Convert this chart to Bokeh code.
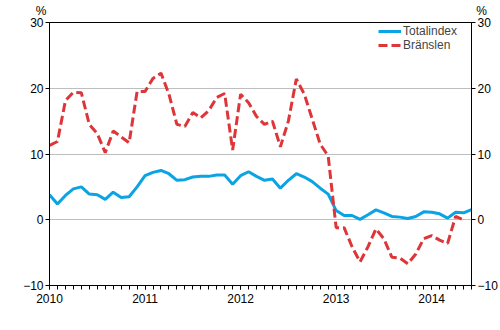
import math
from bokeh.plotting import figure
from bokeh.models import (Range1d, LinearAxis, FixedTicker, Legend, LegendItem)
from bokeh.embed import file_html
from bokeh.resources import INLINE

years = ["2010", "2011", "2012", "2013", "2014"]
year_start_index = [0, 12, 24, 36, 48]

totalindex = [3.8, 2.4, 3.7, 4.7, 5.0, 3.9, 3.8, 3.1, 4.2, 3.4, 3.5, 5.0,
              6.7, 7.2, 7.5, 7.0, 6.0, 6.1, 6.5, 6.6, 6.6, 6.8, 6.8, 5.4,
              6.7, 7.3, 6.6, 6.0, 6.2, 4.8, 6.0, 7.0, 6.5, 5.8, 4.8, 3.9,
              1.4, 0.65, 0.65, 0.05, 0.75, 1.5, 1.05, 0.5, 0.4, 0.2, 0.5, 1.2,
              1.15, 0.9, 0.25, 1.15, 1.05, 1.55]

bransle = [11.3, 11.9, 18.1, 19.4, 19.3, 14.5, 13.1, 10.2, 13.5, 12.6, 11.7, 19.5,
           19.5, 21.5, 22.3, 19.1, 14.5, 14.2, 16.3, 15.5, 16.6, 18.6, 19.2, 10.6,
           19.1, 17.8, 15.7, 14.5, 15.0, 11.1, 15.0, 21.4, 19.1, 15.3, 11.5, 9.7,
           -1.2, -1.2, -4.1, -6.4, -4.1, -1.4, -2.9, -5.7, -5.8, -6.7, -5.2, -2.9,
           -2.4, -3.1, -3.6, 0.5, 0.0, float("nan")]

y_ticks = [-10, 0, 10, 20, 30]
unit_label = "%"

months = list(range(len(totalindex)))

FONT = "Liberation Sans"
BLUE = "#0AA3E4"
RED = "#DE3539"
NB = "\u00a0"

p = figure(width=500, height=330, output_backend="svg", toolbar_location=None,
           x_range=Range1d(0, len(months) - 1), y_range=Range1d(-10, 30),
           min_border_left=49, min_border_right=29, min_border_top=21,
           min_border_bottom=45)
p.outline_line_color = "black"
p.outline_line_width = 1
p.background_fill_color = "white"
p.border_fill_color = "white"

p.xgrid.visible = False
p.ygrid.grid_line_color = "#BEBEBE"
p.ygrid.grid_line_width = 1
p.ygrid.ticker = FixedTicker(ticks=y_ticks)

xt = FixedTicker(ticks=year_start_index, minor_ticks=months)
p.xaxis.ticker = xt
p.xaxis.major_label_overrides = {i: y for i, y in zip(year_start_index, years)}
p.xaxis.major_tick_in = 0
p.xaxis.major_tick_out = 4
p.xaxis.minor_tick_in = 0
p.xaxis.minor_tick_out = 4
p.xaxis.major_label_standoff = 4
p.xaxis.axis_line_color = "black"
p.xaxis.major_label_text_font = FONT
p.xaxis.major_label_text_font_size = "12px"
p.xaxis.major_label_text_color = "black"

p.yaxis.ticker = FixedTicker(ticks=y_ticks)
p.yaxis.minor_tick_line_color = None
p.yaxis.major_tick_in = 0
p.yaxis.major_tick_out = 4
p.yaxis.major_label_standoff = 2
p.yaxis.major_label_text_font = FONT
p.yaxis.major_label_text_font_size = "12px"
p.yaxis.major_label_text_color = "black"

ra = LinearAxis(ticker=FixedTicker(ticks=y_ticks))
ra.minor_tick_line_color = None
ra.major_tick_in = 0
ra.major_tick_out = 4
ra.major_label_standoff = 2
ra.major_label_text_font = FONT
ra.major_label_text_font_size = "12px"
ra.major_label_text_color = "black"
p.add_layout(ra, "right")

# unit labels "%" above both y axes, carried by an unlined axis above the frame
first, last = months[0], months[-1]
ua = LinearAxis(ticker=FixedTicker(ticks=[first, last]))
ua.major_label_overrides = {first: unit_label + NB * 5, last: NB * 6 + unit_label}
ua.axis_line_color = None
ua.major_tick_line_color = None
ua.minor_tick_line_color = None
ua.major_tick_in = 0
ua.major_tick_out = 0
ua.major_label_standoff = 5
ua.major_label_text_line_height = 0.8
ua.major_label_text_font = FONT
ua.major_label_text_font_size = "12px"
ua.major_label_text_color = "black"
p.add_layout(ua, "above")

r1 = p.line(months, totalindex, line_color=BLUE, line_width=3)
r2 = p.line(months, bransle, line_color=RED, line_width=3, line_dash="9 4")

legend = Legend(items=[LegendItem(label="Totalindex", renderers=[r1]),
                       LegendItem(label="Bränslen", renderers=[r2])],
                location=(329, 233), padding=0, margin=0, spacing=-1,
                glyph_width=23, glyph_height=12, label_height=12,
                label_standoff=2, label_text_font=FONT,
                label_text_font_size="12px", border_line_color=None,
                background_fill_alpha=0)
p.add_layout(legend, "center")

open("out.html", "w").write(file_html(p, INLINE))
